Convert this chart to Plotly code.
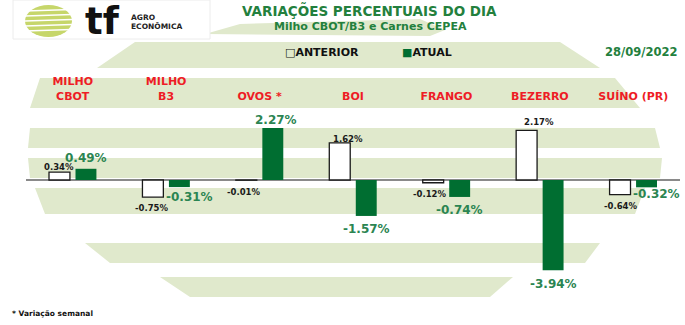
import plotly.graph_objects as go

# ---------------- data ----------------
categories = ["MILHO<br>CBOT", "MILHO<br>B3", "OVOS *", "BOI", "FRANGO", "BEZERRO", "SUÍNO (PR)"]
anterior = [0.34, -0.75, -0.01, 1.62, -0.12, 2.17, -0.64]
atual = [0.49, -0.31, 2.27, -1.57, -0.74, -3.94, -0.32]
series_names = ["ANTERIOR", "ATUAL"]
title_text = "VARIAÇÕES PERCENTUAIS DO DIA"
subtitle_text = "Milho CBOT/B3 e Carnes CEPEA"
date_text = "28/09/2022"
footnote_text = "* Variação semanal"

# ---------------- layout constants ----------------
W, H = 685, 325
L, R, T, B = 26, 5, 103, 25
PW, PH = W - L - R, H - T - B
FONT = "DejaVu Sans"
DARK_GREEN = "#006e31"
LABEL_GREEN = "#2b8552"
TITLE_GREEN = "#23803d"
RED = "#ee1c25"
BAND = "#e0e9cc"

def px(x):
    return (x - L) / PW

def py(y):
    return (H - B - y) / PH

fig = go.Figure()
fig.add_trace(go.Bar(x=list(range(len(categories))), y=anterior, name=series_names[0],
                     marker=dict(color="white", line=dict(color="#1a1a1a", width=1.3))))
fig.add_trace(go.Bar(x=list(range(len(categories))), y=atual, name=series_names[1],
                     marker=dict(color=DARK_GREEN, line=dict(width=0))))

shapes = []
# background striped globe (decorative)
bands = [
    (42, 68, 135, 97, 560, 600),
    (78, 108, 40, 30, 615, 640),
    (128, 148, 30, 28, 655, 660),
    (158, 178, 28, 30, 662, 660),
    (188, 214, 35, 45, 645, 635),
    (243, 263, 85, 110, 600, 585),
    (277, 297, 160, 190, 513, 490),
]
for (yt, yb, xlt, xlb, xrt, xrb) in bands:
    path = (f"M{px(xlt)},{py(yt)} L{px(xrt)},{py(yt)} L{px(xrb)},{py(yb)} "
            f"L{px(xlb)},{py(yb)} Z")
    shapes.append(dict(type="path", path=path, xref="paper", yref="paper",
                       fillcolor=BAND, line=dict(width=0), layer="below"))
# wedge near title
wedge = [(205, 34), (240, 24), (420, 19), (445, 30), (430, 36)]
path = "M" + " L".join(f"{px(a)},{py(b)}" for a, b in wedge) + " Z"
shapes.append(dict(type="path", path=path, xref="paper", yref="paper",
                   fillcolor=BAND, line=dict(width=0), layer="below"))

# header box
shapes.append(dict(type="rect", xref="paper", yref="paper", x0=px(13), x1=px(210),
                   y0=py(39), y1=py(0), line=dict(color="#ececec", width=1),
                   fillcolor="white", layer="below"))
# logo globe
shapes.append(dict(type="circle", xref="paper", yref="paper", x0=px(25), x1=px(72),
                   y0=py(37), y1=py(5), fillcolor="#c6d66a", line=dict(width=0), layer="below"))
for yy in [11, 16, 21, 26, 31]:
    shapes.append(dict(type="line", xref="paper", yref="paper", x0=px(25), x1=px(72),
                       y0=py(yy), y1=py(yy - 1.5), line=dict(color="white", width=1.5),
                       layer="below"))

annotations = []
# title / subtitle
annotations.append(dict(text=f"<b>{title_text}</b>", x=px(369), y=py(11), xref="paper", yref="paper",
                        showarrow=False, xanchor="center", yanchor="middle",
                        font=dict(family=FONT, size=13.5, color=TITLE_GREEN)))
annotations.append(dict(text=f"<b>{subtitle_text}</b>", x=px(370), y=py(26), xref="paper", yref="paper",
                        showarrow=False, xanchor="center", yanchor="middle",
                        font=dict(family=FONT, size=11, color=TITLE_GREEN)))
# logo text
annotations.append(dict(text="<b>tf</b>", x=px(83), y=py(21), xref="paper", yref="paper",
                        showarrow=False, xanchor="left", yanchor="middle",
                        font=dict(family=FONT, size=37, color="#111111")))
annotations.append(dict(text="<b>AGRO</b>", x=px(129), y=py(17), xref="paper", yref="paper",
                        showarrow=False, xanchor="left", yanchor="middle",
                        font=dict(family=FONT, size=7.5, color="#222222")))
annotations.append(dict(text="<b>ECONÔMICA</b>", x=px(129), y=py(26), xref="paper", yref="paper",
                        showarrow=False, xanchor="left", yanchor="middle",
                        font=dict(family=FONT, size=7.5, color="#222222")))
# legend (manual)
annotations.append(dict(text=f"<b>□{series_names[0]}</b>", x=px(283), y=py(52), xref="paper", yref="paper",
                        showarrow=False, xanchor="left", yanchor="middle",
                        font=dict(family=FONT, size=11, color="#111111")))
annotations.append(dict(text=f"<b><span style='color:{DARK_GREEN}'>■</span>{series_names[1]}</b>",
                        x=px(400), y=py(52), xref="paper", yref="paper",
                        showarrow=False, xanchor="left", yanchor="middle",
                        font=dict(family=FONT, size=11, color="#111111")))
annotations.append(dict(text=f"<b>{date_text}</b>", x=px(679), y=py(52), xref="paper", yref="paper",
                        showarrow=False, xanchor="right", yanchor="middle",
                        font=dict(family=FONT, size=11.5, color=TITLE_GREEN)))
annotations.append(dict(text=f"<b>{footnote_text}</b>", x=px(10), y=py(313), xref="paper", yref="paper",
                        showarrow=False, xanchor="left", yanchor="middle",
                        font=dict(family=FONT, size=7.5, color="#111111")))

# value labels
OFF = 13.25
ant_dx = [-0.5, -1, -2.5, 8, -3.5, 12.5, 0.5]
ant_dy = [-5.5, 11, 11.5, -4, 11, -8, 11]
atu_dx = [0, 10, 3, 0, 0, 0, 9.5]
atu_dy = [-11, 9.6, -8, 13, 13, 14, 7]
for i, v in enumerate(anterior):
    annotations.append(dict(text=f"<b>{v:.2f}%</b>", x=i, y=v, xref="x", yref="y",
                            showarrow=False, xanchor="center", yanchor="middle",
                            xshift=-OFF + ant_dx[i], yshift=-ant_dy[i],
                            font=dict(family=FONT, size=8.5, color="#1a1a1a")))
for i, v in enumerate(atual):
    annotations.append(dict(text=f"<b>{v:.2f}%</b>", x=i, y=v, xref="x", yref="y",
                            showarrow=False, xanchor="center", yanchor="middle",
                            xshift=OFF + atu_dx[i], yshift=-atu_dy[i],
                            font=dict(family=FONT, size=12, color=LABEL_GREEN)))

scale = 22.9  # px per percent
y_top = (180 - T) / scale
y_bot = -(T + PH - 180) / scale

fig.update_layout(
    width=W, height=H,
    margin=dict(l=L, r=R, t=T, b=B),
    paper_bgcolor="white", plot_bgcolor="rgba(0,0,0,0)",
    barmode="group", bargap=0.433, bargroupgap=0.21,
    showlegend=False,
    shapes=shapes, annotations=annotations,
    xaxis=dict(side="top", range=[-0.5, len(categories) - 0.5], tickmode="array",
               tickvals=list(range(len(categories))), ticktext=[f"<b>{c}</b>" for c in categories],
               showgrid=False, zeroline=False, showline=False, ticks="",
               tickfont=dict(family=FONT, size=11, color=RED)),
    yaxis=dict(range=[y_bot, y_top], showgrid=False, showticklabels=False,
               zeroline=True, zerolinecolor="#8a8a8a", zerolinewidth=2, showline=False),
)

fig.write_html("out.html")
